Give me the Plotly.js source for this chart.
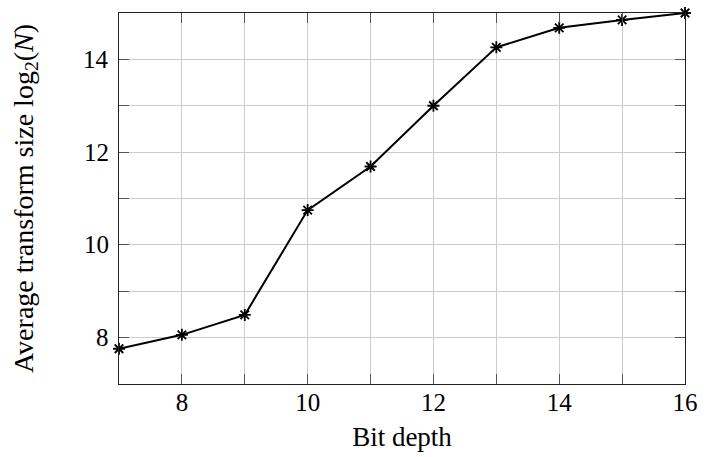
<!DOCTYPE html>
<html>
<head>
<meta charset="utf-8">
<script src="https://cdn.plot.ly/plotly-3.0.1.min.js"></script>
<style>
html,body{margin:0;padding:0;background:#fff;}
#chart{width:714px;height:457px;}
</style>
</head>
<body>
<div id="chart"></div>
<script>
const bitDepth = [7, 8, 9, 10, 11, 12, 13, 14, 15, 16];
const avgLog2N = [7.76, 8.06, 8.49, 10.75, 11.69, 13.0, 14.26, 14.68, 14.85, 15.0];
const xTickVals = [7, 8, 9, 10, 11, 12, 13, 14, 15, 16];
const xTickText = ['', '8', '', '10', '', '12', '', '14', '', '16'];
const yTickVals = [7, 8, 9, 10, 11, 12, 13, 14, 15];
const yLabelVals = [8, 10, 12, 14];

const fontFam = 'Liberation Serif';
const gridCol = '#cccccc';
const tickCol = '#555555';

const trace = {
  x: bitDepth,
  y: avgLog2N,
  type: 'scatter',
  mode: 'lines+markers',
  line: {color: '#000', width: 2},
  marker: {symbol: 'asterisk-open', size: 10, color: '#000', line: {color: '#000', width: 1.8}},
  cliponaxis: false,
  showlegend: false
};

const yAnn = yLabelVals.map(v => ({
  xref: 'paper', yref: 'y', x: 0, y: v, xanchor: 'right', yanchor: 'middle',
  xshift: -8, text: String(v), showarrow: false,
  font: {family: fontFam, size: 25, color: '#000'}
}));

const layout = {
  width: 714, height: 457,
  margin: {l: 119, r: 29, t: 13, b: 73},
  paper_bgcolor: '#fff', plot_bgcolor: '#fff',
  font: {family: fontFam, size: 25, color: '#000'},
  annotations: yAnn,
  xaxis: {
    range: [7, 16], tickmode: 'array', tickvals: xTickVals, ticktext: xTickText,
    showline: true, linecolor: '#222', linewidth: 1.3, mirror: 'ticks',
    ticks: 'inside', ticklen: 10, tickcolor: tickCol, tickwidth: 1,
    showgrid: true, gridcolor: gridCol, gridwidth: 1, zeroline: false,
    tickfont: {family: fontFam, size: 25, color: '#000'},
    ticklabelstandoff: -4,
    automargin: false,
    title: {text: 'Bit depth', font: {family: fontFam, size: 27, color: '#000'}, standoff: 11}
  },
  yaxis: {
    range: [7, 15], tickmode: 'array', tickvals: yTickVals,
    showticklabels: false,
    showline: true, linecolor: '#222', linewidth: 1.3, mirror: 'ticks',
    ticks: 'inside', ticklen: 10, tickcolor: tickCol, tickwidth: 1,
    showgrid: true, gridcolor: gridCol, gridwidth: 1, zeroline: false,
    automargin: false,
    title: {text: 'Average transform size log<sub>2</sub>(<i>N</i>)', font: {family: fontFam, size: 28, color: '#000'}, standoff: 76}
  }
};

Plotly.newPlot('chart', [trace], layout, {staticPlot: true, displayModeBar: false});
</script>
</body>
</html>
